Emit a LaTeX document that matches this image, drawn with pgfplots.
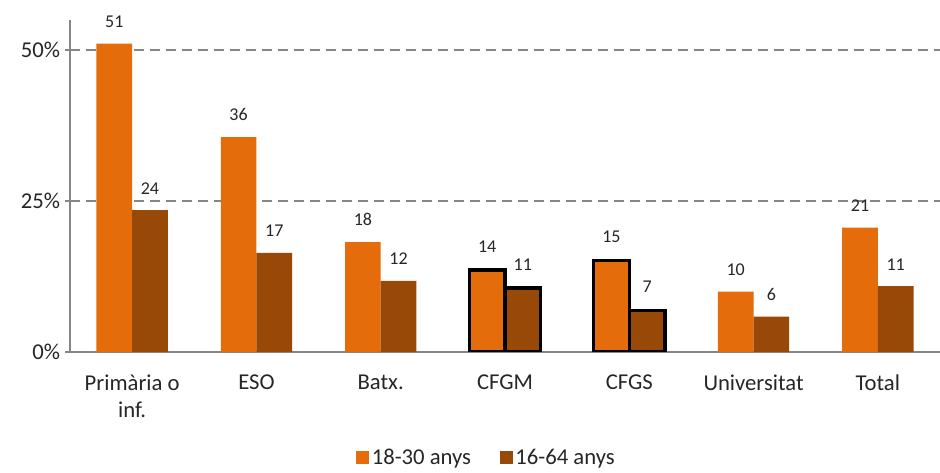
\documentclass[border=0pt]{standalone}
\usepackage{pgfplots}
\pgfplotsset{compat=1.18}
\usepackage{fontspec}
\setmainfont{Carlito}
\definecolor{orng}{HTML}{E46C0A}
\definecolor{brwn}{HTML}{984807}
\definecolor{axgray}{HTML}{868686}
\definecolor{txt}{HTML}{262626}
\begin{document}
\begin{tikzpicture}
\useasboundingbox (0pt,0pt) rectangle (705pt,354.75pt);
\begin{axis}[
  at={(52.5pt,90.75pt)}, anchor=south west,
  scale only axis, width=652.5pt, height=249pt,
  xmin=-0.5, xmax=6.5, ymin=0, ymax=55,
  axis lines*=left,
  axis line style={axgray, line width=1.5pt},
  ybar, bar width=0.287,
  xtick={0,1,2,3,4,5,6},
  xticklabels={{Primària o\\inf.},ESO,Batx.,CFGM,CFGS,Universitat,Total},
  x tick label style={align=center, font=\fontsize{17}{20.5}\selectfont, text=txt, yshift=-9.5pt},
  major x tick style={draw=none},
  extra x ticks={-0.5,0.5,1.5,2.5,3.5,4.5,5.5},
  extra x tick labels={},
  extra x tick style={major tick length=6pt, tick style={axgray, line width=1.5pt}},
  tick align=outside,
  ytick={0,25,50},
  yticklabels={0\%,25\%,50\%},
  y tick label style={font=\fontsize{17}{21}\selectfont, text=txt},
  major y tick style={axgray, line width=1.5pt},
  major tick length=4pt,
  ymajorgrids,
  major grid style={axgray, line width=1.5pt, dash pattern=on 7.5pt off 4.5pt},
  point meta=explicit symbolic,
  nodes near coords,
  every node near coord/.append style={font=\fontsize{13.5}{16}\selectfont, text=txt, anchor=south, yshift=8.5pt},
  legend style={at={(0.479,-0.318)}, anchor=center, draw=none, legend columns=2,
    font=\fontsize{17}{21}\selectfont, text=txt, fill=none,
    /tikz/every even column/.append style={column sep=19.5pt}},
  legend image code/.code={\fill[#1] (0pt,-4.875pt) rectangle (9.75pt,4.875pt);},
]
\addplot[fill=orng, draw=none, bar shift=-0.1435] coordinates {(0,51.1) [51] (1,35.6) [36] (2,18.2) [18] (5,10.0) [10] (6,20.6) [21]};
\addplot[fill=brwn, draw=none, bar shift=0.1435] coordinates {(0,23.5) [24] (1,16.4) [17] (2,11.8) [12] (5,5.85) [6] (6,10.9) [11]};
\addplot[fill=orng, draw=black, line width=2.6pt, bar shift=-0.1435, forget plot] coordinates {(3,13.6) [14] (4,15.2) [15]};
\addplot[fill=brwn, draw=black, line width=2.6pt, bar shift=0.1435, forget plot] coordinates {(3,10.6) [11] (4,6.9) [7]};
\legend{18-30 anys,16-64 anys}
\end{axis}
\end{tikzpicture}
\end{document}
